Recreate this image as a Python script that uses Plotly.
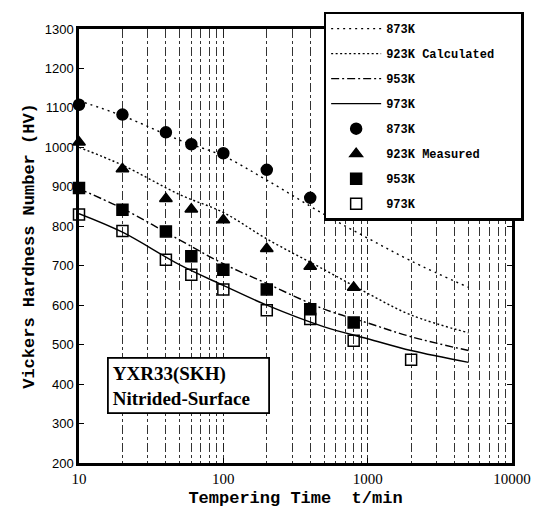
import plotly.graph_objects as go

# Calculated curves
t_calc = [10, 20, 50, 100, 200, 500, 1000, 2000, 5000]
calc_873 = [1118, 1080, 1018, 978, 917, 830, 770, 712, 645]
calc_923 = [1000, 955, 880, 835, 768, 690, 630, 575, 530]
calc_953 = [895, 845, 765, 705, 655, 590, 555, 520, 485]
calc_973 = [832, 785, 702, 650, 600, 545, 515, 485, 455]

# Measured values
t_873 = [10, 20, 40, 60, 100, 200, 400]
hv_873 = [1108, 1083, 1038, 1008, 985, 943, 872]
t_923 = [10, 20, 40, 60, 100, 200, 400, 800]
hv_923 = [1013, 945, 870, 843, 816, 743, 698, 645]
t_953 = [10, 20, 40, 60, 100, 200, 400, 800]
hv_953 = [897, 842, 787, 724, 690, 640, 590, 556]
t_973 = [10, 20, 40, 60, 100, 200, 400, 800, 2000]
hv_973 = [830, 788, 715, 677, 640, 587, 565, 510, 462]

calc_names = ["873K", "923K Calculated", "953K", "973K"]
meas_names = ["873K", "923K Measured", "953K", "973K"]

x_tickvals = [10, 100, 1000, 10000]
x_ticktext = ["10", "100", "1000", "10000"]

fig = go.Figure()

calc_series = [calc_873, calc_923, calc_953, calc_973]
dashes = ["2px,4px", "2px,2.5px", "8px,3px,2px,3px", "solid"]
pad = "\u00a0" * 3
for i, (ys, dsh) in enumerate(zip(calc_series, dashes)):
    fig.add_trace(go.Scatter(
        x=t_calc, y=ys, mode="lines", name=calc_names[i] + pad,
        line=dict(color="black", width=1.4, dash=dsh, shape="spline"),
        legendgroup="c%d" % i, cliponaxis=False))

meas = [(t_873, hv_873, "circle"), (t_923, hv_923, "triangle-up"),
        (t_953, hv_953, "square"), (t_973, hv_973, "square-open")]
for i, (xs, ys, sym) in enumerate(meas):
    fig.add_trace(go.Scatter(
        x=xs, y=ys, mode="markers", name=meas_names[i] + pad,
        marker=dict(symbol=sym, size=11, color="black",
                    line=dict(color="black", width=1.5)),
        legendgroup="m%d" % i, cliponaxis=False))

fig.update_layout(
    width=543, height=523,
    margin=dict(l=79, r=25, t=18, b=60),
    paper_bgcolor="white", plot_bgcolor="white",
    showlegend=True,
    legend=dict(x=0.565, y=1.04, xanchor="left", yanchor="top",
                bgcolor="white", bordercolor="black", borderwidth=2.5,
                font=dict(family="Liberation Mono", size=12, color="black", weight="bold"),
                tracegroupgap=6, itemwidth=50),
    annotations=[dict(
        x=0.064, y=0.245, xref="paper", yref="paper", xanchor="left", yanchor="top",
        text="YXR33(SKH)<br>Nitrided-Surface\u00a0\u00a0\u00a0", showarrow=False, align="left",
        font=dict(family="Liberation Serif", size=19, color="black", weight="bold"),
        bgcolor="white", bordercolor="black", borderwidth=1.8, borderpad=4)],
)

fig.update_xaxes(
    type="log", range=[1, 4], tickvals=x_tickvals, ticktext=x_ticktext,
    showline=True, linecolor="black", linewidth=2.5, mirror=True,
    ticks="inside", ticklen=5, tickcolor="black",
    showgrid=True, gridcolor="#222", gridwidth=1, griddash="dash",
    minor=dict(dtick="D1", showgrid=True, gridcolor="#333", gridwidth=1,
               griddash="dashdot", ticks=""),
    tickfont=dict(family="Liberation Serif", size=15, color="black"),
    title=dict(text="Tempering Time  t/min", standoff=6,
               font=dict(family="Liberation Mono", size=17, color="black", weight="bold")),
    zeroline=False)

fig.update_yaxes(
    range=[200, 1300], dtick=100,
    showline=True, linecolor="black", linewidth=2.5, mirror="ticks",
    ticks="inside", ticklen=5, tickcolor="black",
    showgrid=False, zeroline=False,
    tickfont=dict(family="Liberation Sans", size=13, color="black"),
    title=dict(text="Vickers Hardness Number (HV)", standoff=6,
               font=dict(family="Liberation Mono", size=17, color="black", weight="bold")))

fig.write_html("out.html")
